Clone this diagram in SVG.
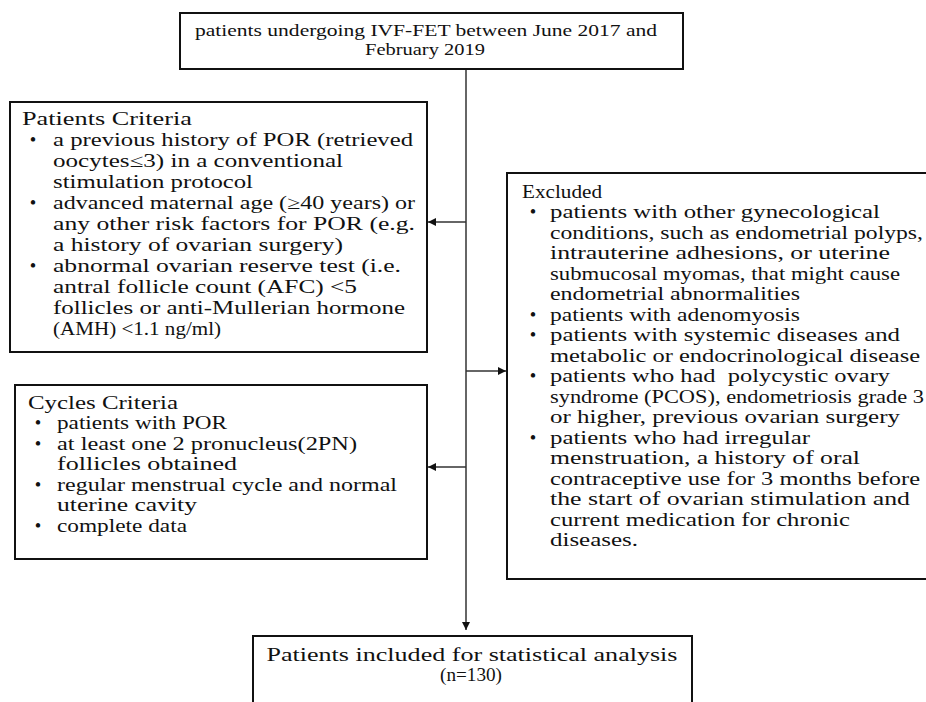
<svg xmlns="http://www.w3.org/2000/svg" width="926" height="702" viewBox="0 0 926 702">
<style>
  .box { fill: #fff; stroke: #111; stroke-width: 2; }
  .t { font-family: "Liberation Serif", "Times New Roman", serif; font-size: 18.5px; fill: #111; white-space: pre; }
  .s { font-size: 17px; }
  .c { text-anchor: middle; }
  .conn { fill: none; stroke: #333; stroke-width: 1.6; }
  .main { fill: none; stroke: #666; stroke-width: 2; }
</style>
<defs>
  <marker id="ah" viewBox="0 0 10 10" refX="10" refY="5" markerWidth="9" markerHeight="8" markerUnits="userSpaceOnUse" orient="auto">
    <path d="M0,0 L10,5 L0,10 z" fill="#111"/>
  </marker>
</defs>
<rect width="926" height="702" fill="#fff"/>

<g id="connectors">
  <line class="main" x1="466" y1="69" x2="466" y2="630" marker-end="url(#ah)"/>
  <line class="conn" x1="466" y1="222" x2="428" y2="222" marker-end="url(#ah)"/>
  <line class="conn" x1="466" y1="467" x2="428" y2="467" marker-end="url(#ah)"/>
  <line class="conn" x1="466" y1="371" x2="506" y2="371" marker-end="url(#ah)"/>
</g>

<g id="start">
  <rect class="box" x="180" y="13" width="503" height="56"/>
  <text class="t s c" x="426" y="36" textLength="462" lengthAdjust="spacingAndGlyphs">patients undergoing IVF-FET between June 2017 and</text>
  <text class="t s c" x="425" y="55" textLength="120" lengthAdjust="spacingAndGlyphs">February 2019</text>
</g>

<g id="patients-criteria">
  <rect class="box" x="10" y="102" width="417" height="250"/>
  <text class="t" x="22" y="124.5" textLength="170" lengthAdjust="spacingAndGlyphs">Patients Criteria</text>
  <text class="t c" x="33" y="145.5">•</text>
  <text class="t" x="53" y="145.5" textLength="360" lengthAdjust="spacingAndGlyphs">a previous history of POR (retrieved</text>
  <text class="t" x="53" y="166.5" textLength="290" lengthAdjust="spacingAndGlyphs">oocytes≤3) in a conventional</text>
  <text class="t" x="53" y="187.5" textLength="200" lengthAdjust="spacingAndGlyphs">stimulation protocol</text>
  <text class="t c" x="33" y="208.5">•</text>
  <text class="t" x="53" y="208.5" textLength="362" lengthAdjust="spacingAndGlyphs">advanced maternal age (≥40 years) or</text>
  <text class="t" x="53" y="229.5" textLength="362" lengthAdjust="spacingAndGlyphs">any other risk factors for POR (e.g.</text>
  <text class="t" x="53" y="250.5" textLength="290" lengthAdjust="spacingAndGlyphs">a history of ovarian surgery)</text>
  <text class="t c" x="33" y="271.5">•</text>
  <text class="t" x="53" y="271.5" textLength="348" lengthAdjust="spacingAndGlyphs">abnormal ovarian reserve test (i.e.</text>
  <text class="t" x="53" y="292.5" textLength="304" lengthAdjust="spacingAndGlyphs">antral follicle count (AFC) &lt;5</text>
  <text class="t" x="53" y="313.5" textLength="352" lengthAdjust="spacingAndGlyphs">follicles or anti-Mullerian hormone</text>
  <text class="t" x="53" y="334.5" textLength="168" lengthAdjust="spacingAndGlyphs">(AMH) &lt;1.1 ng/ml)</text>
</g>

<g id="cycles-criteria">
  <rect class="box" x="15" y="385" width="412" height="174"/>
  <text class="t" x="28" y="408.5" textLength="150" lengthAdjust="spacingAndGlyphs">Cycles Criteria</text>
  <text class="t c" x="38" y="429">•</text>
  <text class="t" x="57" y="429" textLength="170" lengthAdjust="spacingAndGlyphs">patients with POR</text>
  <text class="t c" x="38" y="449.5">•</text>
  <text class="t" x="57" y="449.5" textLength="300" lengthAdjust="spacingAndGlyphs">at least one 2 pronucleus(2PN)</text>
  <text class="t" x="57" y="470" textLength="180" lengthAdjust="spacingAndGlyphs">follicles obtained</text>
  <text class="t c" x="38" y="490.5">•</text>
  <text class="t" x="57" y="490.5" textLength="340" lengthAdjust="spacingAndGlyphs">regular menstrual cycle and normal</text>
  <text class="t" x="57" y="511" textLength="140" lengthAdjust="spacingAndGlyphs">uterine cavity</text>
  <text class="t c" x="38" y="531.5">•</text>
  <text class="t" x="57" y="531.5" textLength="130" lengthAdjust="spacingAndGlyphs">complete data</text>
</g>

<g id="excluded">
  <rect class="box" x="507" y="173" width="430" height="406"/>
  <text class="t" x="522" y="197.5" textLength="80" lengthAdjust="spacingAndGlyphs">Excluded</text>
  <text class="t c" x="533" y="218">•</text>
  <text class="t" x="550" y="218" textLength="330" lengthAdjust="spacingAndGlyphs">patients with other gynecological</text>
  <text class="t" x="550" y="238.5" textLength="373" lengthAdjust="spacingAndGlyphs">conditions, such as endometrial polyps,</text>
  <text class="t" x="550" y="259" textLength="340" lengthAdjust="spacingAndGlyphs">intrauterine adhesions, or uterine</text>
  <text class="t" x="550" y="279.5" textLength="350" lengthAdjust="spacingAndGlyphs">submucosal myomas, that might cause</text>
  <text class="t" x="550" y="300" textLength="250" lengthAdjust="spacingAndGlyphs">endometrial abnormalities</text>
  <text class="t c" x="533" y="320.5">•</text>
  <text class="t" x="550" y="320.5" textLength="250" lengthAdjust="spacingAndGlyphs">patients with adenomyosis</text>
  <text class="t c" x="533" y="341">•</text>
  <text class="t" x="550" y="341" textLength="350" lengthAdjust="spacingAndGlyphs">patients with systemic diseases and</text>
  <text class="t" x="550" y="361.5" textLength="370" lengthAdjust="spacingAndGlyphs">metabolic or endocrinological disease</text>
  <text class="t c" x="533" y="382">•</text>
  <text class="t" x="550" y="382" textLength="340" lengthAdjust="spacingAndGlyphs">patients who had  polycystic ovary</text>
  <text class="t" x="550" y="402.5" textLength="374" lengthAdjust="spacingAndGlyphs">syndrome (PCOS), endometriosis grade 3</text>
  <text class="t" x="550" y="423" textLength="350" lengthAdjust="spacingAndGlyphs">or higher, previous ovarian surgery</text>
  <text class="t c" x="533" y="443.5">•</text>
  <text class="t" x="550" y="443.5" textLength="260" lengthAdjust="spacingAndGlyphs">patients who had irregular</text>
  <text class="t" x="550" y="464" textLength="310" lengthAdjust="spacingAndGlyphs">menstruation, a history of oral</text>
  <text class="t" x="550" y="484.5" textLength="370" lengthAdjust="spacingAndGlyphs">contraceptive use for 3 months before</text>
  <text class="t" x="550" y="505" textLength="360" lengthAdjust="spacingAndGlyphs">the start of ovarian stimulation and</text>
  <text class="t" x="550" y="525.5" textLength="300" lengthAdjust="spacingAndGlyphs">current medication for chronic</text>
  <text class="t" x="550" y="546" textLength="88" lengthAdjust="spacingAndGlyphs">diseases.</text>
</g>

<g id="included">
  <rect class="box" x="253" y="636" width="439" height="80"/>
  <text class="t c" x="472" y="660.5" textLength="411" lengthAdjust="spacingAndGlyphs">Patients included for statistical analysis</text>
  <text class="t c" x="471" y="680.5" textLength="62" lengthAdjust="spacingAndGlyphs">(n=130)</text>
</g>
</svg>
